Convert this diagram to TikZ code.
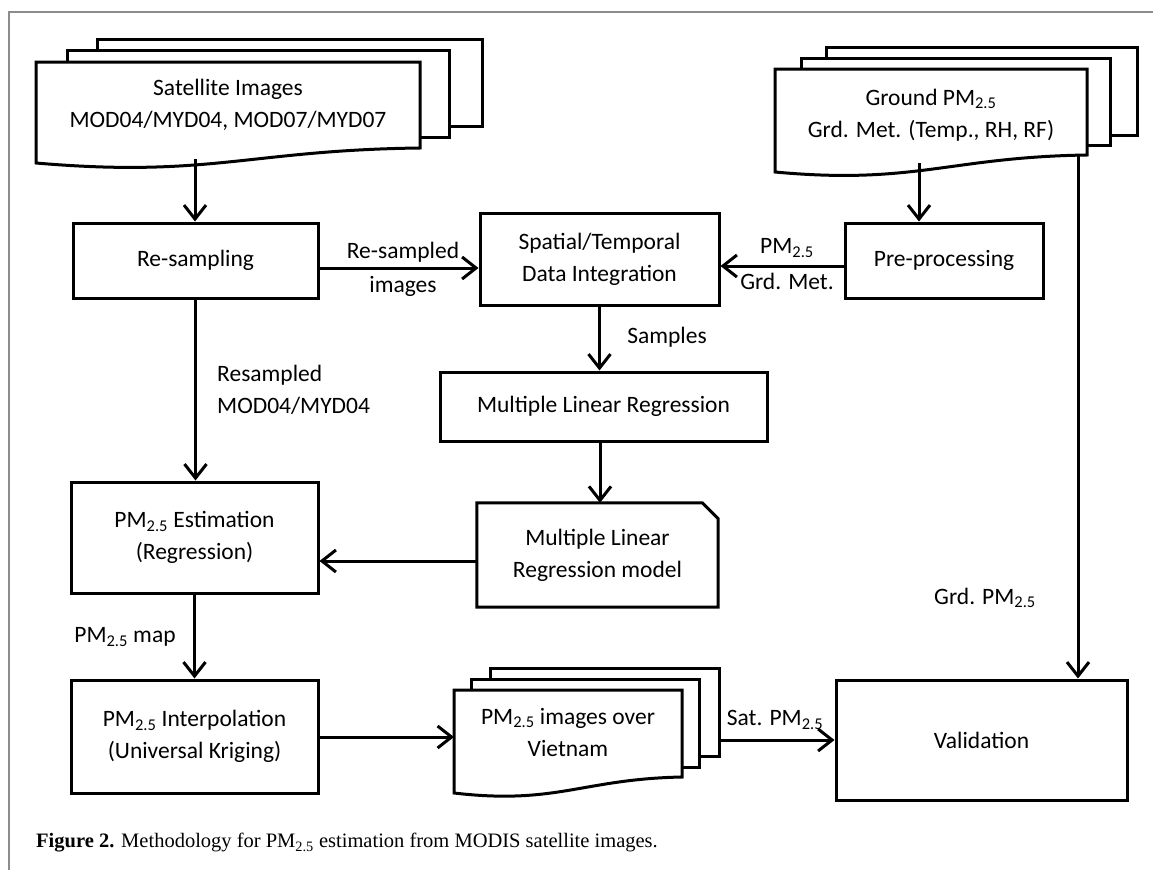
\documentclass[tikz,border=0pt]{standalone}
\usepackage{fontspec}
\setmainfont{Carlito}
\newfontfamily\capfont{Liberation Serif}
\usetikzlibrary{arrows.meta,calc}
\begin{document}
\begin{tikzpicture}[x=1pt,y=-1pt,
  txt/.style={font=\fontsize{23.5}{32}\selectfont},
  box/.style={draw,line width=3pt,fill=white,inner sep=0pt,align=center,txt},
  lbl/.style={inner sep=0pt,align=center,txt},
  sheet/.style={draw,line width=3pt,fill=white,line join=miter},
  arr/.style={line width=3pt,-{Straight Barb[length=14pt,width=22pt]}},
  frameline/.style={draw=black!45,line width=1.5pt}]
\useasboundingbox (0,0) rectangle (1153,870);
% frame
\draw[frameline] (9,870) -- (9,12) -- (1153,12);

% satellite document stack
\draw[sheet] (97,39) rectangle (482,126);
\draw[sheet] (67,50) rectangle (449,137);
\draw[sheet] (36,62) -- (420,62) -- (420,148) .. controls (250,150) and (210,178) .. (36,163) -- cycle;
\node[lbl] (sat) at (228,105) {Satellite Images\\MOD04/MYD04, MOD07/MYD07};

% ground document stack
\draw[sheet] (826,47) rectangle (1137,135);
\draw[sheet] (801,58) rectangle (1110,145);
\draw[sheet] (775,69) -- (1087,69) -- (1087,155) .. controls (950,157) and (915,185) .. (775,172) -- cycle;
\node[lbl] (grd) at (931,115) {Ground PM\textsubscript{2.5}\\Grd. Met. (Temp., RH, RF)};

% Vietnam document stack
\draw[sheet] (490,668) rectangle (719,756);
\draw[sheet] (471,679) rectangle (699,767);
\draw[sheet] (454,690) -- (682,690) -- (682,777) .. controls (582,779) and (557,805) .. (454,793) -- cycle;
\node[lbl] (viet) at (568,732) {PM\textsubscript{2.5} images over\\Vietnam};

% boxes
\node[box,minimum width=245pt,minimum height=75pt] (resamp) at (195.5,260.5) {Re-sampling};
\node[box,minimum width=239pt,minimum height=92pt] (spatial) at (599.5,259) {Spatial/Temporal\\Data Integration};
\node[box,minimum width=198pt,minimum height=75pt] (pre) at (944,260.5) {Pre-processing};
\node[box,minimum width=327pt,minimum height=69pt] (mlr) at (603.5,406.5) {Multiple Linear Regression};
\node[box,minimum width=247pt,minimum height=111pt] (est) at (194.5,537.5) {PM\textsubscript{2.5} Estimation\\(Regression)};
\node[box,minimum width=247pt,minimum height=113pt] (interp) at (194.5,736.5) {PM\textsubscript{2.5} Interpolation\\(Universal Kriging)};
\node[box,minimum width=291pt,minimum height=120pt] (valid) at (981.5,740) {Validation};

% model (chamfered)
\node[lbl,minimum width=241pt,minimum height=104pt] (model) at (597.5,555) {Multiple Linear\\Regression model};
\draw[line width=3pt,line join=miter] (model.north west) -- ([xshift=-16pt]model.north east) -- ([yshift=-16pt]model.north east) -- (model.south east) -- (model.south west) -- cycle;

% coordinates for connector ends
\coordinate (satb) at (195,159);
\coordinate (grdb) at (919,163);
\coordinate (grdr) at (1078,155);
\coordinate (vietW) at (454,737);
\coordinate (vietE) at (719,740);
\coordinate (y268) at (0,268);
\coordinate (y266) at (0,266);
\coordinate (y561) at (0,561);
\coordinate (x600) at (600,0);

% connectors
\draw[arr] (satb) -- (satb |- resamp.north);
\draw[arr] (resamp.east |- y268) -- (spatial.west |- y268);
\draw[arr] (pre.west |- y266) -- (spatial.east |- y266);
\draw[arr] (grdb) -- (grdb |- pre.north);
\draw[arr] (grdr) -- (grdr |- valid.north);
\draw[arr] (spatial.south) -- (spatial.south |- mlr.north);
\draw[arr] (mlr.south -| x600) -- (model.north -| x600);
\draw[arr] (resamp.south) -- (resamp.south |- est.north);
\draw[arr] (model.west |- y561) -- (est.east |- y561);
\draw[arr] (est.south) -- (est.south |- interp.north);
\draw[arr] (interp.east |- vietW) -- (vietW);
\draw[arr] (vietE) -- (valid.west |- vietE);

% labels
\node[lbl] (lres1) at (403,252) {Re-sampled};
\node[lbl] (lres2) at (403,286) {images};
\node[lbl] (lpm) at (787,248) {PM\textsubscript{2.5}};
\node[lbl] (lmet) at (787,281) {Grd. Met.};
\node[lbl] (lsam) at (667,337) {Samples};
\node[lbl,align=left,anchor=west] (lrs) at (217,390) {Resampled\\MOD04/MYD04};
\node[lbl] (lmap) at (125,637) {PM\textsubscript{2.5} map};
\node[lbl] (lgrd) at (985,598) {Grd. PM\textsubscript{2.5}};
\node[lbl] (lsat) at (775,720) {Sat. PM\textsubscript{2.5}};

% caption
\node[anchor=west,inner sep=0pt,font=\capfont\fontsize{20.5}{24}\selectfont] (cap) at (36,843) {\textbf{Figure 2.} Methodology for PM\textsubscript{2.5} estimation from MODIS satellite images.};
\end{tikzpicture}
\end{document}
